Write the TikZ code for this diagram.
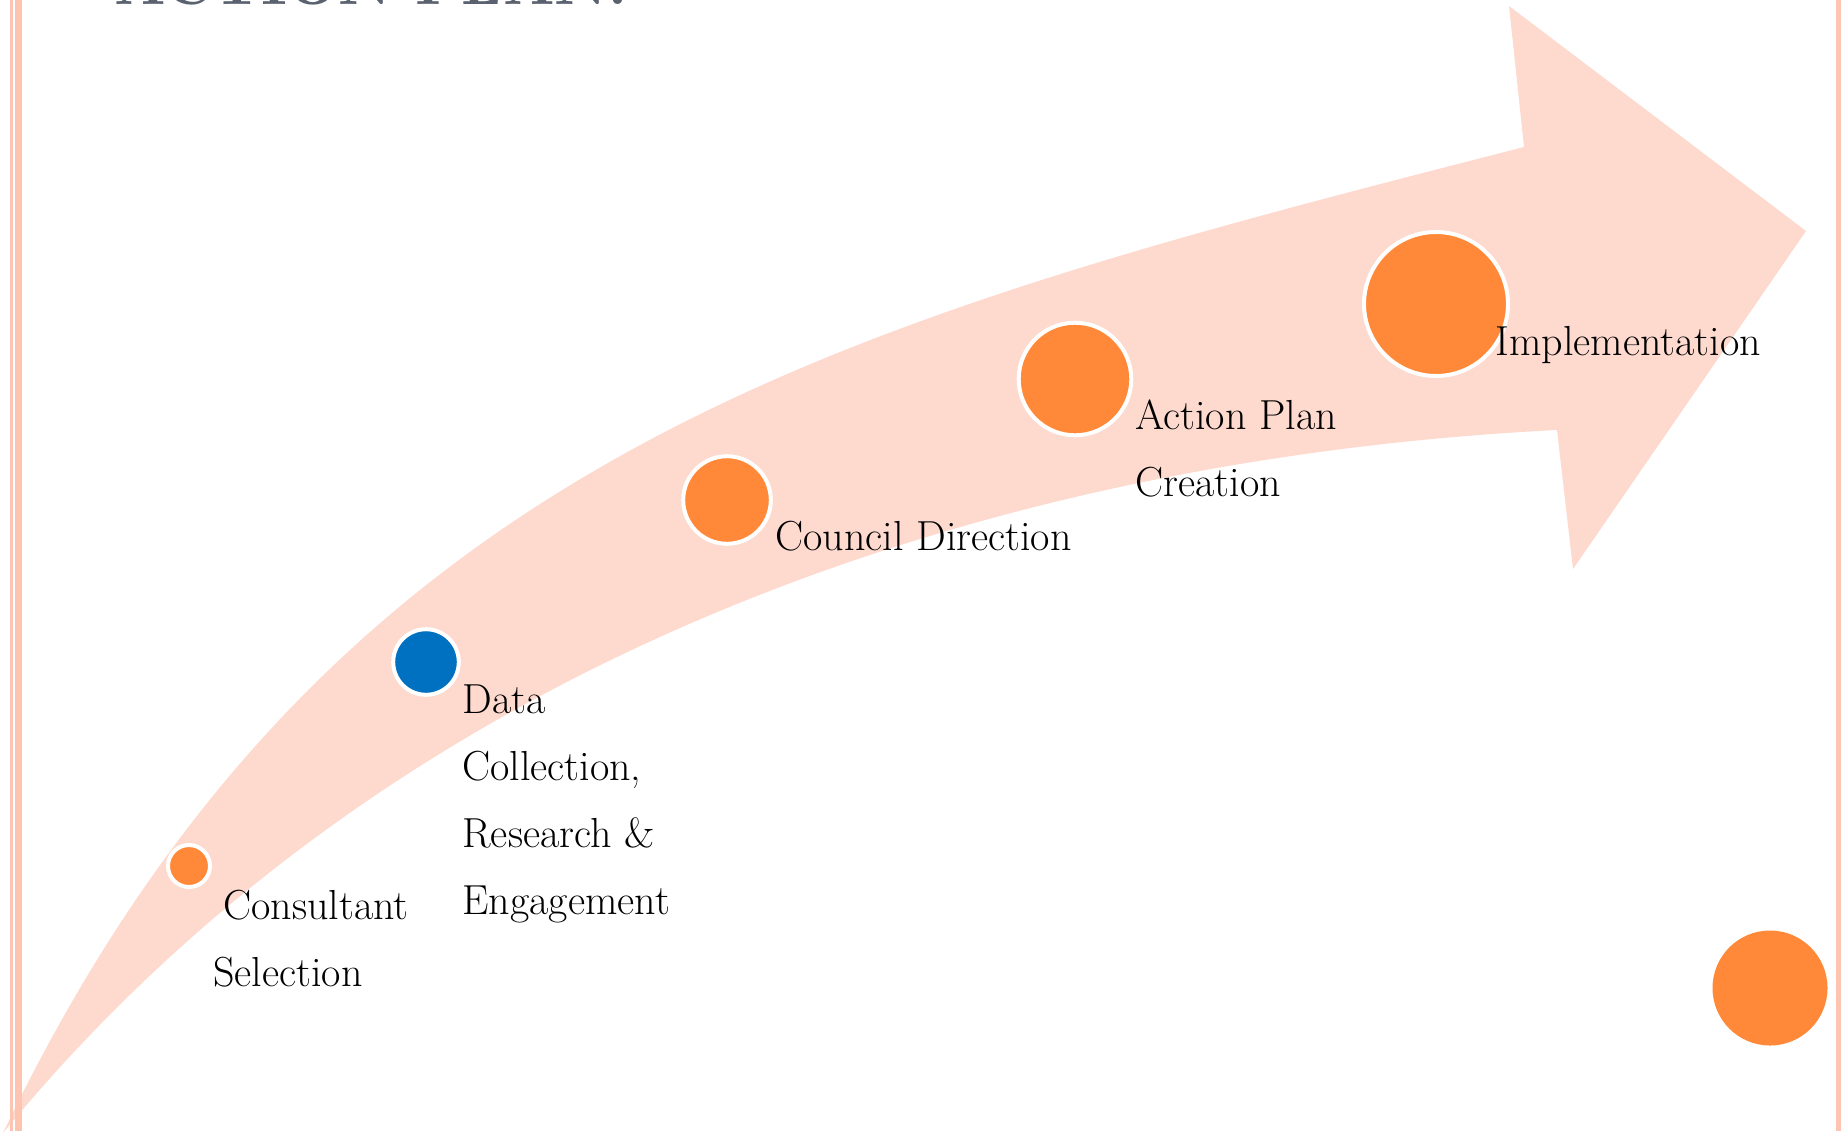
\documentclass[tikz,border=0pt]{standalone}
\usepackage{graphicx}
\definecolor{bandpink}{RGB}{253,217,206}
\definecolor{borderpink}{RGB}{252,196,177}
\definecolor{dotorange}{RGB}{255,137,57}
\definecolor{dotblue}{RGB}{0,112,192}
\definecolor{titlegrey}{RGB}{90,98,112}
\newcommand\lblfont{\fontsize{21pt}{33.5pt}\selectfont}
\tikzset{
  stepdot/.style={circle, fill=dotorange, draw=white, line width=2pt, inner sep=0pt},
  lbl/.style={anchor=base west, inner sep=0pt, font=\lblfont, text=black},
  band/.style={fill=bandpink},
  borderline/.style={draw=borderpink}
}
\begin{document}
\begin{tikzpicture}[x=0.5pt, y=-0.5pt]
\useasboundingbox (0,0) rectangle (1841,1131);
% title (mostly cut off at the top)
\node[anchor=base west, inner sep=0pt, text=titlegrey] (title) at (114,4)
  {\resizebox{256.5pt}{!}{\bfseries ACTION PLAN:}};
% curved arrow
\fill[band] (3,1133) .. controls (330,450) and (850,320) .. (1524,147)
  -- (1509,6) -- (1806,231) -- (1573,569) -- (1557,430)
  .. controls (1000,458) and (400,650) .. (3,1133) -- cycle;
% border lines
\draw[borderline, line width=1.25pt] (11.25,0) -- (11.25,1131);
\draw[borderline, line width=3.25pt] (18.25,0) -- (18.25,1131);
\draw[borderline, line width=2.5pt] (1838.5,0) -- (1838.5,1131);
% step dots
\node[stepdot, minimum size=21pt] (c1) at (189,866) {};
\node[stepdot, fill=dotblue, minimum size=32.8pt] (c2) at (426,662) {};
\node[stepdot, minimum size=43.8pt] (c3) at (727,500) {};
\node[stepdot, minimum size=56.3pt] (c4) at (1075,379) {};
\node[stepdot, minimum size=72pt] (c5) at (1436,304) {};
\node[circle, fill=dotorange, inner sep=0pt, minimum size=57.5pt] (c6) at (1770,988) {};
% labels
\node[lbl] (t1) at (213,919) {\vtop{\hbox{\hskip5pt Consultant}\hbox{Selection}}};
\node[lbl] (t2) at (462,713) {\vtop{\hbox{Data}\hbox{Collection,}\hbox{Research \&}\hbox{Engagement}}};
\node[lbl] (t3) at (775,550) {Council Direction};
\node[lbl] (t4) at (1135,429) {\vtop{\hbox{Action Plan}\hbox{Creation}}};
\node[lbl] (t5) at (1495,355) {Implementation};
\end{tikzpicture}
\end{document}
